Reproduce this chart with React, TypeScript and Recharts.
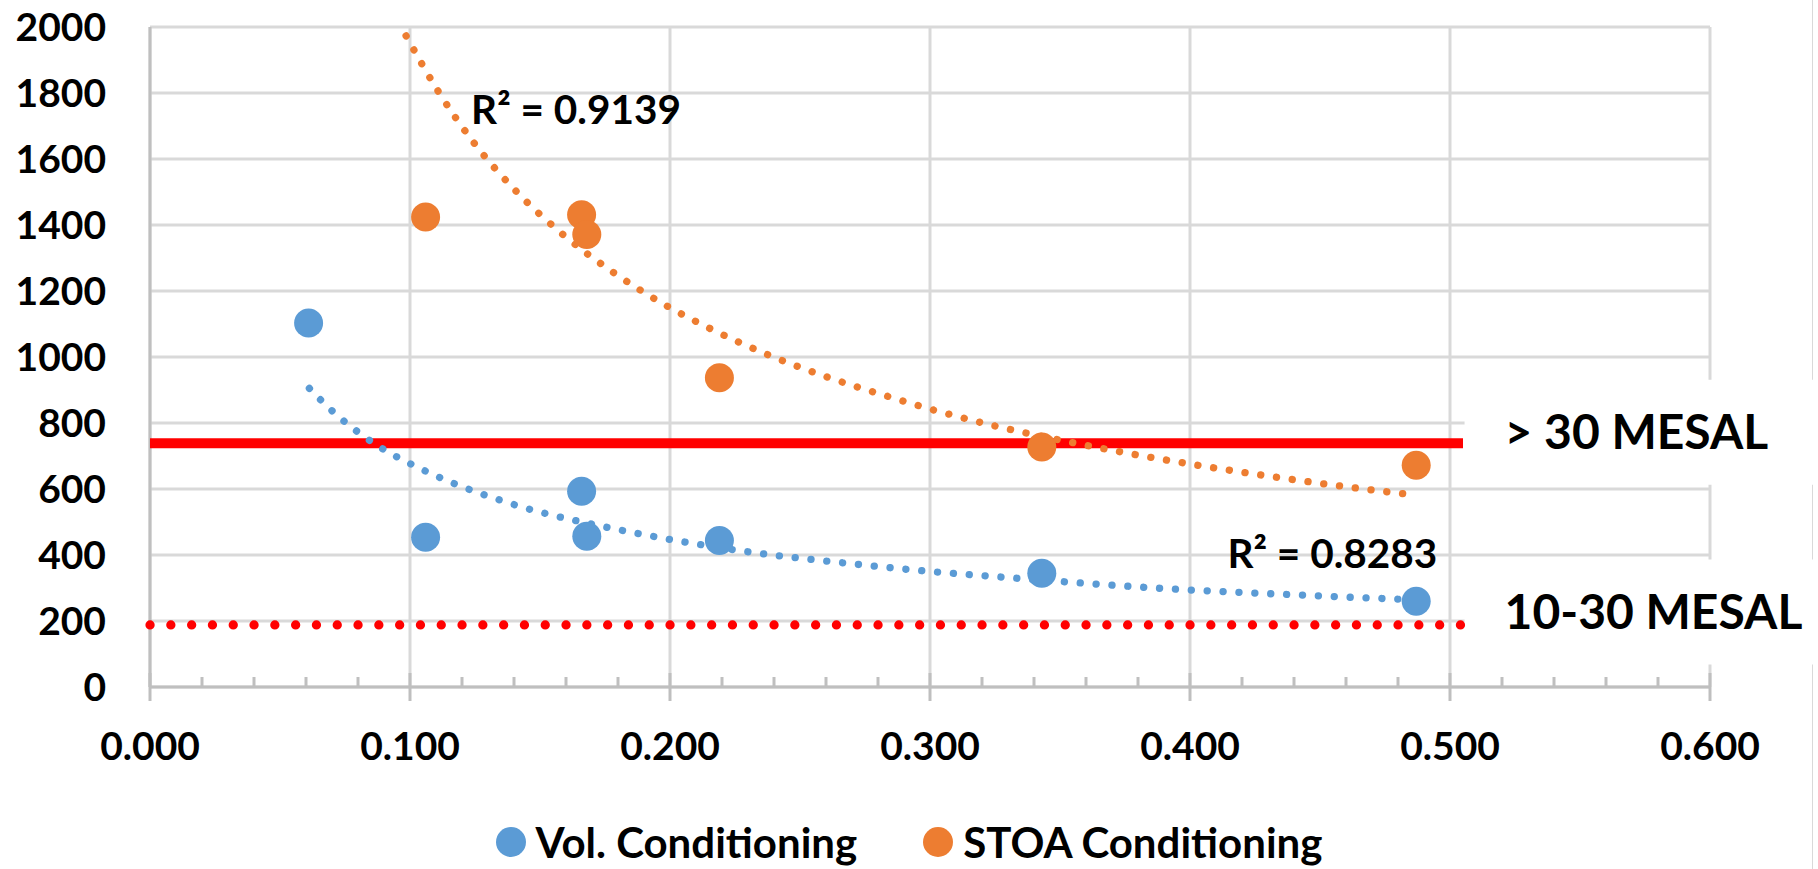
import React from 'react';
import {
  ScatterChart,
  Scatter,
  XAxis,
  YAxis,
  CartesianGrid,
  Legend,
  ReferenceArea,
  ReferenceDot,
} from 'recharts';

// measured points
const volX = [0.061, 0.106, 0.166, 0.168, 0.219, 0.343, 0.487];
const volY = [1103, 454, 593, 457, 444, 345, 260];
const stoaX = [0.106, 0.166, 0.168, 0.219, 0.343, 0.487];
const stoaY = [1424, 1431, 1371, 937, 727, 672];

// power trendlines
const volTrendX = [0.0613, 0.07, 0.0794, 0.0894, 0.1, 0.1168, 0.134, 0.1515, 0.1633, 0.1813, 0.2052, 0.2354, 0.2657, 0.2959, 0.3261, 0.3567, 0.393, 0.4356, 0.4781, 0.486];
const volTrendY = [905, 837, 776, 722, 677, 617, 568, 527, 505, 475, 440, 404, 377, 353, 334, 316, 297, 281, 267, 265];
const stoaTrendX = [0.0985, 0.1107, 0.1247, 0.1406, 0.1584, 0.1779, 0.1985, 0.2147, 0.237, 0.2598, 0.2828, 0.3003, 0.324, 0.3539, 0.39, 0.426, 0.4679, 0.4861];
const stoaTrendY = [1973, 1807, 1648, 1504, 1374, 1258, 1156, 1089, 1009, 941, 883, 842, 793, 742, 689, 644, 599, 582];

// threshold lines
const limitX = [0, 0.505];
const highLimit = 739; // > 30 MESAL
const midLimit = 188; // 10-30 MESAL

const yTicks = [0, 200, 400, 600, 800, 1000, 1200, 1400, 1600, 1800, 2000];
const xMajorTicks = [0, 0.1, 0.2, 0.3, 0.4, 0.5, 0.6];
const xTicks = Array.from({ length: 31 }, (_, i) => +(i * 0.02).toFixed(2));

const seriesNames = ['Vol. Conditioning', 'STOA Conditioning'];
const r2Labels = ['R² = 0.8283', 'R² = 0.9139'];
const boxLabels = ['> 30 MESAL', '10-30 MESAL'];

const BLUE = '#5B9BD5';
const ORANGE = '#ED7D31';
const RED = '#FF0000';
const GRID = '#D9D9D9';
const AXIS = '#BFBFBF';
const FONT = 'Lato, sans-serif';

const toPoints = (xs: number[], ys: number[]) => xs.map((x, i) => ({ x, y: ys[i] }));

const volData = toPoints(volX, volY);
const stoaData = toPoints(stoaX, stoaY);
const volTrend = toPoints(volTrendX, volTrendY);
const stoaTrend = toPoints(stoaTrendX, stoaTrendY);
const highLine = toPoints(limitX, limitX.map(() => highLimit));
const midLine = toPoints(limitX, limitX.map(() => midLimit));

const isMajor = (v: number) => xMajorTicks.some((t) => Math.abs(t - v) < 1e-6);

function XTick(props: any) {
  const { x, y, payload } = props;
  const v = payload.value;
  if (isMajor(v)) {
    return (
      <g>
        <line x1={x} x2={x} y1={y - 14} y2={y + 14} stroke={AXIS} strokeWidth={3} />
        <text x={x} y={y + 73} textAnchor="middle" fontFamily={FONT} fontWeight={700} fontSize={39} fill="#000">
          {v.toFixed(3)}
        </text>
      </g>
    );
  }
  return <line x1={x} x2={x} y1={y - 10} y2={y} stroke={AXIS} strokeWidth={3} />;
}

function BoxText(props: any) {
  const { viewBox, text } = props;
  if (!viewBox) return null;
  const fs = 48;
  return (
    <text x={viewBox.x + 40} y={viewBox.y + viewBox.height / 2 + fs * 0.358} fontFamily={FONT} fontWeight={700} fontSize={fs} fill="#000">
      {text}
    </text>
  );
}

function R2Text(props: any) {
  const { viewBox, text } = props;
  if (!viewBox) return null;
  const fs = 40.5;
  return (
    <text x={viewBox.x + viewBox.width / 2} y={viewBox.y + viewBox.height / 2 + fs * 0.358} fontFamily={FONT} fontWeight={700} fontSize={fs} fill="#000">
      {text}
    </text>
  );
}

const dot = (color: string) => (p: any) => <circle cx={p.cx} cy={p.cy} r={14.5} fill={color} />;
const noShape = () => <g />;

const trendLine = (color: string) => ({ stroke: color, strokeWidth: 7.3, strokeDasharray: '0.1 15.8', strokeLinecap: 'round' });

function LegendContent() {
  const colors = [BLUE, ORANGE];
  return (
    <div style={{ position: 'relative', top: -7, display: 'flex', justifyContent: 'center', alignItems: 'center', height: 40, fontFamily: FONT, fontWeight: 700, fontSize: 42, lineHeight: '40px', color: '#000' }}>
      {seriesNames.map((n, i) => (
        <div key={n} style={{ display: 'flex', alignItems: 'center', marginRight: i === 0 ? 66 : 0 }}>
          <span style={{ display: 'inline-block', width: 30, height: 30, borderRadius: '50%', background: colors[i] }} />
          <span style={{ marginLeft: 10 }}>{n}</span>
        </div>
      ))}
    </div>
  );
}

export default function App() {
  return (
    <div style={{ position: 'absolute', left: 0, top: 0, width: 1818, height: 869, background: '#fff', overflow: 'hidden' }}>
      <div style={{ position: 'absolute', left: 1812, top: 0, width: 1, height: 869, background: GRID }} />
      <ScatterChart width={1818} height={869} margin={{ top: 27, right: 108, bottom: 0, left: 0 }}>
        <CartesianGrid stroke={GRID} strokeWidth={3} verticalValues={xMajorTicks} horizontalValues={yTicks} />
        <XAxis
          type="number"
          dataKey="x"
          domain={[0, 0.6]}
          ticks={xTicks}
          interval={0}
          tickSize={0}
          tickMargin={0}
          tickLine={false}
          axisLine={{ stroke: AXIS, strokeWidth: 3 }}
          height={142}
          tick={<XTick />}
        />
        <YAxis
          type="number"
          dataKey="y"
          domain={[0, 2000]}
          ticks={yTicks}
          interval={0}
          width={150}
          tickSize={0}
          tickMargin={44}
          tickLine={false}
          axisLine={{ stroke: AXIS, strokeWidth: 3 }}
          tick={{ fontFamily: FONT, fontWeight: 700, fontSize: 39, fill: '#000' }}
        />
        <ReferenceArea x1={0.5056} x2={0.64} y1={613} y2={931} fill="#fff" fillOpacity={1} stroke="none" ifOverflow="visible" label={<BoxText text={boxLabels[0]} />} />
        <ReferenceArea x1={0.5056} x2={0.64} y1={68} y2={386} fill="#fff" fillOpacity={1} stroke="none" ifOverflow="visible" label={<BoxText text={boxLabels[1]} />} />
        <Scatter data={highLine} shape={noShape} line={{ stroke: RED, strokeWidth: 10 }} isAnimationActive={false} legendType="none" />
        <Scatter data={midLine} shape={noShape} line={{ stroke: RED, strokeWidth: 9.2, strokeDasharray: '0.1 20.7', strokeLinecap: 'round' }} isAnimationActive={false} legendType="none" />
        <Scatter data={volTrend} shape={noShape} lineJointType="monotoneX" line={trendLine(BLUE)} isAnimationActive={false} legendType="none" />
        <Scatter data={stoaTrend} shape={noShape} lineJointType="monotoneX" line={trendLine(ORANGE)} isAnimationActive={false} legendType="none" />
        <Scatter name={seriesNames[0]} data={volData} fill={BLUE} shape={dot(BLUE)} isAnimationActive={false} />
        <Scatter name={seriesNames[1]} data={stoaData} fill={ORANGE} shape={dot(ORANGE)} isAnimationActive={false} />
        <ReferenceDot x={0.4144} y={404} r={1} fill="none" stroke="none" label={<R2Text text={r2Labels[0]} />} />
        <ReferenceDot x={0.1235} y={1749} r={1} fill="none" stroke="none" label={<R2Text text={r2Labels[1]} />} />
        <Legend verticalAlign="bottom" content={<LegendContent />} wrapperStyle={{ left: 0, width: 1818, height: 40 }} />
      </ScatterChart>
    </div>
  );
}
